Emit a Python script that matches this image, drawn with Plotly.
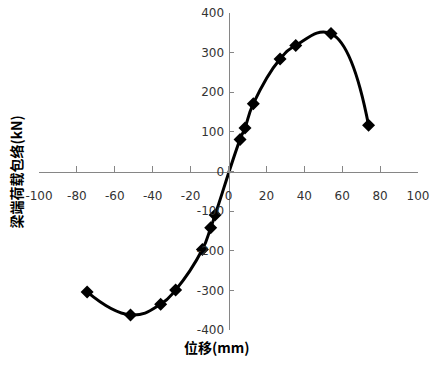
import plotly.graph_objects as go

displacement_mm = [-74.6, -51.7, -35.8, -27.9, -13.8, -9.4, -7.1, 6.1, 8.7, 13.1, 27.2, 35.5, 54.1, 73.9]
load_kN = [-304, -362, -335, -299, -197, -142, -110, 81, 110, 171, 284, 318, 348, 117]

x_ticks = [-100, -80, -60, -40, -20, 0, 20, 40, 60, 80, 100]
y_ticks = [-400, -300, -200, -100, 0, 100, 200, 300, 400]

fig = go.Figure()
fig.add_trace(go.Scatter(
    x=displacement_mm, y=load_kN, mode="lines+markers",
    line=dict(color="black", width=3, shape="spline", smoothing=1.3),
    marker=dict(symbol="diamond", size=10, color="black"),
    showlegend=False,
))

tick_font = dict(family="DejaVu Sans", size=12, color="#333333")
fig.update_layout(
    width=437, height=371,
    margin=dict(l=39, r=19, t=13, b=41),
    paper_bgcolor="white", plot_bgcolor="white",
    xaxis=dict(range=[-100, 100], tickvals=x_ticks, ticktext=[str(v) for v in x_ticks],
               anchor="free", position=0.5, showline=True, linecolor="#868686", linewidth=1,
               ticks="inside", ticklen=6, tickcolor="#868686", showgrid=False, zeroline=False,
               tickfont=tick_font, ticklabelstandoff=13, automargin=False),
    yaxis=dict(range=[-400, 400], tickvals=y_ticks, ticktext=[str(v) for v in y_ticks],
               anchor="free", position=0.5, showline=True, linecolor="#868686", linewidth=1,
               ticks="inside", ticklen=4, tickcolor="#868686", showgrid=False, zeroline=False,
               tickfont=tick_font, ticklabelstandoff=2, automargin=False),
    annotations=[
        dict(text="<b>位移(mm)</b>", x=-6, y=0, xref="x", yref="paper", yanchor="top",
             yshift=-5, showarrow=False,
             font=dict(family="Noto Sans CJK SC", size=14, color="black")),
        dict(text="<b>梁端荷载包络(kN)</b>", x=-0.063, xref="paper", xanchor="center",
             y=0, yref="y", textangle=-90, showarrow=False,
             font=dict(family="Noto Sans CJK SC", size=14, color="black")),
    ],
)

fig.write_html("out.html", config={"displayModeBar": False},
               post_script="document.body.style.margin='0';")
